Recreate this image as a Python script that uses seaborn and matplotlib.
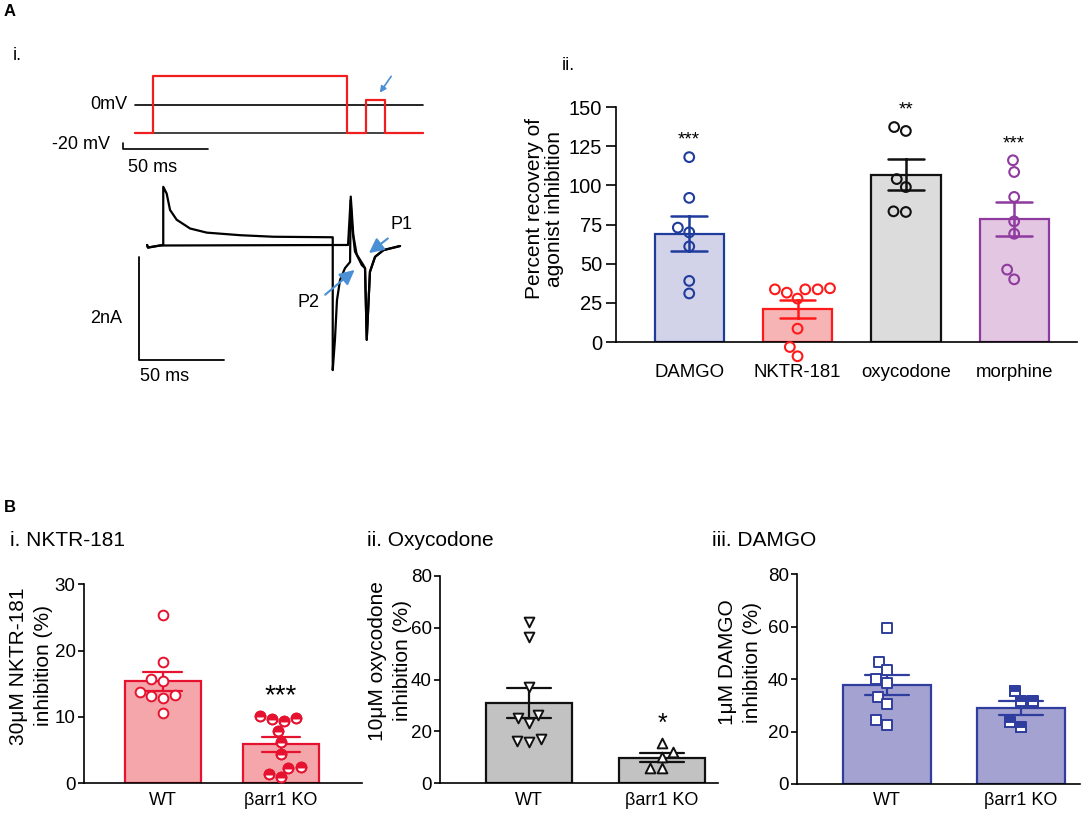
import matplotlib
matplotlib.use("Agg")
import matplotlib.pyplot as plt
import numpy as np
import pandas as pd
import seaborn as sns

sns.set_theme(style="ticks", rc={
    "axes.edgecolor": "black",
    "axes.linewidth": 1.2,
    "xtick.color": "black",
    "ytick.color": "black",
    "text.color": "black",
    "axes.labelcolor": "black",
    "ytick.major.width": 1.2,
})
plt.rcParams["font.family"] = ["Liberation Sans", "DejaVu Sans"]

# ---- A i: voltage protocol (ms, mV) and current traces (ms, nA) ----
protocol_t = [0, 10.8, 10.8, 124.4, 124.4, 135.8, 135.8, 147.2, 147.2, 169.2]
protocol_v = [-20, -20, 20.9, 20.9, -20, -20, 3.6, 3.6, -20, -20]
sweep_t = [0, 169.2]
holding_v = [-20, -20]
zero_v = [0, 0]

trace1_t = [7.1, 7.6, 14.7, 16.6, 16.6, 18.6, 20.6, 24.5, 32.4, 42.2, 61.8, 81.4,
            116.3, 116.3, 117.6, 118.8, 120.6, 123.5, 126.5, 126.9, 128.4, 130.4,
            133.4, 135.3, 136.3, 138.2, 141.2, 146.1, 155.9]
trace1_i = [0, -0.05, -0.01, 0, 1.13, 1.0, 0.68, 0.49, 0.32, 0.24, 0.19, 0.16,
            0.15, -2.43, -1.84, -1.07, -0.68, -0.45, -0.33, 0.94, 0.19, -0.19,
            -0.39, -0.45, -1.84, -0.52, -0.23, -0.10, -0.02]
trace2_t = [7.1, 7.6, 14.7, 125.3, 126.8, 127.6, 129.4, 132.4, 134.3, 135.3,
            136.3, 138.2, 141.2, 146.1, 155.9]
trace2_i = [0, -0.05, -0.01, 0, 0.87, 0.39, -0.13, -0.29, -0.39, -0.45,
            -1.84, -0.52, -0.23, -0.10, -0.02]
time_bar_ms = 50
current_bar_na = 2

# ---- A ii: percent recovery ----
agonists = ["DAMGO", "NKTR-181", "oxycodone", "morphine"]
recovery_damgo = [118, 92, 73, 70, 61, 39, 31]
recovery_nktr = [33.6, 33.6, 33.6, 31.5, 34.3, 27.7, 8.5, -3.2, -9.1]
recovery_oxycodone = [134.7, 137.2, 104, 98.9, 83, 83.4]
recovery_morphine = [116, 108.5, 92.6, 77, 69.1, 46.2, 40]
recovery_stars = ["***", "", "**", "***"]

# ---- B: WT vs barr1 KO inhibition (%) ----
genotypes = ["WT", "βarr1 KO"]
nktr_wt = [25.3, 18.3, 15.7, 15.4, 13.8, 13.2, 12.8, 13.3, 10.6]
nktr_ko = [9.8, 10.2, 9.4, 9.7, 7.9, 6.2, 4.4, 2.3, 2.5, 1.4, 0.9]
oxy_wt = [62.1, 56.3, 37.3, 26.4, 23.2, 25.1, 16.1, 17.0, 16.5]
oxy_ko = [15.4, 12.2, 10.3, 5.8, 5.8]
damgo_wt = [59.7, 46.7, 43.5, 40.2, 38.4, 33.3, 30.5, 24.4, 22.5]
damgo_ko = [35.5, 31.7, 31.7, 23.8, 21.6]

W, H = 1084, 816
fig = plt.figure(figsize=(W / 100, H / 100), dpi=100)


def px_axes(left, top, right, bottom):
    return fig.add_axes([left / W, 1 - bottom / H, (right - left) / W, (bottom - top) / H])


def swarm(ax, **kws):
    """swarmplot, keeping only the non-empty point collections (unclipped)."""
    before = list(ax.collections)
    sns.swarmplot(ax=ax, **kws)
    kept = []
    for coll in ax.collections:
        if coll in before:
            continue
        if len(coll.get_offsets()) == 0:
            coll.remove()
        else:
            coll.set_clip_on(False)
            kept.append(coll)
    return kept


BLUE_ARROW = "#4b8fd5"

# ---------------- A i ----------------
ax_v = px_axes(40, 60, 440, 175)
ax_v.set_xlim(-55.9, 179.4)
ax_v.set_ylim(-50, 32.1)
ax_v.axis("off")
ax_v.plot(sweep_t, holding_v, color="#222222", lw=1.2)
ax_v.plot(sweep_t, zero_v, color="black", lw=1.2)
ax_v.plot(protocol_t, protocol_v, color="#f01e1e", lw=1.6)
ax_v.plot([-7.2, -7.2, -7.2 + time_bar_ms], [-27.4, -31.6, -31.6], color="black", lw=1.2)
ax_v.text(-4.7, 0, "0mV", ha="right", va="center", fontsize=13)
ax_v.text(-14.7, -27.9, "-20 mV", ha="right", va="center", fontsize=13)
ax_v.text(-4.1, -44.3, "50 ms", ha="left", va="center", fontsize=13)
ax_v.annotate("", xy=(143.1, 7.1), xytext=(151.6, 22.1),
              arrowprops=dict(arrowstyle="-|>", color=BLUE_ARROW, lw=1.2, mutation_scale=9))

ax_i = px_axes(40, 170, 440, 400)
ax_i.set_xlim(-55.9, 179.4)
ax_i.set_ylim(-3.01, 1.456)
ax_i.axis("off")
ax_i.plot(trace2_t, trace2_i, color="black", lw=1.6)
ax_i.plot(trace1_t, trace1_i, color="black", lw=1.6)
ax_i.plot([2.5, 2.5, 2.5 + time_bar_ms], [-0.23, -0.23 - current_bar_na, -0.23 - current_bar_na],
          color="black", lw=1.3)
ax_i.text(-7.6, -1.42, "2nA", ha="right", va="center", fontsize=13)
ax_i.text(2.9, -2.56, "50 ms", ha="left", va="center", fontsize=13)
ax_i.text(150, 0.39, "P1", ha="left", va="center", fontsize=13)
ax_i.text(95.3, -1.11, "P2", ha="left", va="center", fontsize=13)
for tip, tail in [((136.3, -0.19), (150, 0.16)), ((130.4, -0.45), (110.6, -1.0))]:
    ax_i.annotate("", xy=tip, xytext=tail,
                  arrowprops=dict(arrowstyle="-|>", color=BLUE_ARROW, lw=1.5, mutation_scale=22))

# ---------------- A ii ----------------
ax_r = px_axes(616, 107, 1077, 342)
recovery = pd.DataFrame({
    "agonist": sum([[a] * len(v) for a, v in zip(agonists, [recovery_damgo, recovery_nktr,
                                                          recovery_oxycodone, recovery_morphine])], []),
    "recovery": recovery_damgo + recovery_nktr + recovery_oxycodone + recovery_morphine,
})
fills = ["#d2d2e9", "#f7b4b4", "#dcdcdc", "#e3c6e2"]
edges = ["#1f3c9c", "#ff1a1a", "#111111", "#8e3a9e"]
for name, fill, edge in zip(agonists, fills, edges):
    sub = recovery[recovery.agonist == name]
    sns.barplot(data=sub, x="agonist", y="recovery", order=agonists, color=fill, saturation=1,
                edgecolor=edge, linewidth=1.6, width=0.64, errorbar="se", capsize=0.33,
                err_kws={"color": edge, "linewidth": 1.8}, ax=ax_r)
    swarm(ax_r, data=sub, x="agonist", y="recovery", order=agonists, color=edge,
          facecolor="none", edgecolor=edge, linewidth=1.5, size=7, zorder=4)
for i, (name, star) in enumerate(zip(agonists, recovery_stars)):
    if star:
        top = recovery.loc[recovery.agonist == name, "recovery"].max()
        ax_r.annotate(star, xy=(i, top), xytext=(0, 12), textcoords="offset points",
                      ha="center", va="center", fontsize=13.5)
ax_r.set_xlim(-0.676, 3.58)
ax_r.set_ylim(0, 150)
ax_r.set_yticks(np.arange(0, 151, 25))
ax_r.tick_params(axis="y", labelsize=14.5, pad=3, length=7)
ax_r.tick_params(axis="x", labelsize=13.4, length=0, pad=16)
ax_r.set_xlabel("")
ax_r.set_ylabel("Percent recovery of\nagonist inhibition", fontsize=15, linespacing=1.1)
ax_r.yaxis.set_label_coords(-0.112, 0.566)
sns.despine(ax=ax_r)


# ---------------- B ----------------
def knockout_panel(box, xlim, wt, ko, fill, edge, markers, yticks, ylabel, label_xy,
                   star, star_size):
    ax = px_axes(*box)
    df = pd.DataFrame({"genotype": [genotypes[0]] * len(wt) + [genotypes[1]] * len(ko),
                       "value": wt + ko})
    sns.barplot(data=df, x="genotype", y="value", order=genotypes, color=fill, saturation=1,
                edgecolor=edge, linewidth=1.6, width=0.65, errorbar="se", capsize=0.33,
                err_kws={"color": edge, "linewidth": 1.6}, ax=ax)
    swarms = []
    for g, m in zip(genotypes, markers):
        swarms += swarm(ax, data=df[df.genotype == g], x="genotype", y="value", order=genotypes,
                        marker=m, color=edge, facecolor="white", edgecolor=edge, linewidth=1.4,
                        size=7, zorder=4)
    if star:
        ax.annotate(star, xy=(1, max(ko)), xytext=(0, 14), textcoords="offset points",
                    ha="center", va="center", fontsize=star_size)
    ax.set_xlim(*xlim)
    ax.set_ylim(yticks[0], yticks[-1])
    ax.set_yticks(yticks)
    ax.tick_params(axis="y", labelsize=13.5, pad=1.5, length=4.5)
    ax.tick_params(axis="x", labelsize=13, length=0, pad=6)
    ax.set_xlabel("")
    ax.set_ylabel(ylabel, fontsize=15, linespacing=1.4)
    ax.yaxis.set_label_coords(*label_xy)
    sns.despine(ax=ax)
    return ax, swarms


ax_b1, sw_b1 = knockout_panel((84, 584.3, 362, 783.3), (-0.669, 1.686), nktr_wt, nktr_ko,
                              "#f4a6aa", "#e5132f", ["o", "o"], [0, 10, 20, 30],
                              "30μM NKTR-181\ninhibition (%)", (-0.112, 0.59), "***", 20)
ax_b2, sw_b2 = knockout_panel((440, 576, 718, 783.3), (-0.669, 1.42), oxy_wt, oxy_ko,
                              "#c2c2c2", "#111111", ["v", "^"], [0, 20, 40, 60, 80],
                              "10μM oxycodone\ninhibition (%)", (-0.1, 0.59), "*", 18)
ax_b3, sw_b3 = knockout_panel((797, 574.3, 1080, 784), (-0.672, 1.44), damgo_wt, damgo_ko,
                              "#a4a2d0", "#2f3d9e", ["s", "s"], [0, 20, 40, 60, 80],
                              "1μM DAMGO\ninhibition (%)", (-0.124, 0.58), "", 18)

# half-filled KO markers, placed where the swarm put them
fig.canvas.draw()
for ax, coll, marker, edge in [(ax_b1, sw_b1[1], "o", "#e5132f"), (ax_b3, sw_b3[1], "s", "#2f3d9e")]:
    xy = coll.get_offsets()
    ax.plot(xy[:, 0], xy[:, 1], ls="none", marker=marker, ms=7, mfc=edge, mfcalt="white",
            fillstyle="top", mec=edge, mew=1.4, zorder=5, clip_on=False)

# panel labels and titles
fig.text(4 / W, 1 - 12 / H, "A", fontsize=12, fontweight="bold", va="center")
fig.text(4 / W, 1 - 507 / H, "B", fontsize=12, fontweight="bold", va="center")
fig.text(13 / W, 1 - 55 / H, "i.", fontsize=13, va="center")
fig.text(562 / W, 1 - 66 / H, "ii.", fontsize=13, va="center")
fig.text(10 / W, 1 - 540 / H, "i. NKTR-181", fontsize=15, va="center")
fig.text(367 / W, 1 - 540 / H, "ii. Oxycodone", fontsize=15, va="center")
fig.text(712 / W, 1 - 540 / H, "iii. DAMGO", fontsize=15, va="center")

fig.savefig("out.png", dpi=100)
plt.close(fig)
